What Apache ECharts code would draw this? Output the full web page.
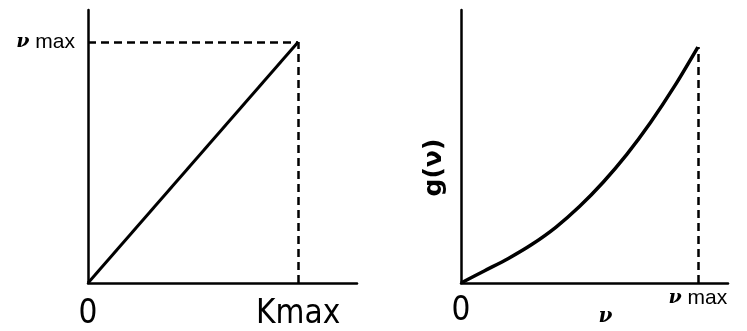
<!DOCTYPE html>
<html>
<head>
<meta charset="utf-8">
<script src="https://cdn.jsdelivr.net/npm/echarts@6/dist/echarts.min.js"></script>
<style>
  html, body { margin: 0; padding: 0; background: #fff; }
  #chart { width: 747px; height: 331px; }
</style>
</head>
<body>
<div id="chart"></div>
<script>
// left panel: nu = K * nu_max / K_max (normalised: K_max = 1, nu_max = 1)
const leftX = [0, 1]
const leftY = [0, 1]
const leftXTicks = [0, 1]
const leftXLabels = ['0', 'Kmax']
const leftYTicks = [1]
const leftYLabels = ['ν max']

// right panel: g(nu), nu normalised to nu_max = 1
const rightX = [0, 0.1, 0.2, 0.3, 0.4, 0.5, 0.6, 0.7, 0.8, 0.9, 1]
const rightY = [0, 0.052, 0.104, 0.164, 0.236, 0.324, 0.427, 0.545, 0.68, 0.832, 1]
const rightXTicks = [0, 1]
const rightXLabels = ['0', 'ν max']
const rightXName = 'ν'
const rightYName = 'g(ν)'

const ink = '#000'
const narrow = '"Liberation Sans Narrow", "DejaVu Sans Condensed", sans-serif'
const axisLine = { show: true, onZero: false, lineStyle: { color: ink, width: 2.5 } }
const dashed = { color: ink, width: 2.5, type: [8, 5] }

// "ν max" as rich text: serif italic nu + sans "max"
const nuRich = {
  nu: { fontFamily: 'DejaVu Serif', fontStyle: 'italic', fontWeight: 'bold', fontSize: 19, color: ink },
  mx: { fontFamily: '"Liberation Sans", sans-serif', fontSize: 21, color: ink },
}
const nuMax = (s) => s.replace('ν max', '{nu|ν}{mx| max}')

const chart = echarts.init(document.getElementById('chart'), null, { renderer: 'canvas' })

chart.setOption({
  backgroundColor: '#fff',
  animation: false,
  grid: [
    { left: 88, top: 10, width: 269, height: 273, outerBoundsMode: 'none' },
    { left: 461, top: 10, width: 267, height: 273, outerBoundsMode: 'none' },
  ],
  xAxis: [
    {
      gridIndex: 0, type: 'value', min: 0, max: 1.28,
      axisLine, axisTick: { show: false }, splitLine: { show: false },
      axisLabel: {
        customValues: leftXTicks,
        formatter: (v) => leftXLabels[leftXTicks.indexOf(v)],
        color: ink, fontFamily: narrow, fontSize: 33, margin: 15,
      },
    },
    {
      gridIndex: 1, type: 'value', min: 0, max: 1.127,
      axisLine, axisTick: { show: false }, splitLine: { show: false },
      name: rightXName, nameLocation: 'middle', nameGap: 24, nameMoveOverlap: false,
      nameTextStyle: { color: ink, fontFamily: 'DejaVu Serif', fontStyle: 'italic', fontWeight: 'bold', fontSize: 20, padding: [0, 0, 0, 22] },
      axisLabel: {
        customValues: rightXTicks,
        formatter: (v) => {
          const s = rightXLabels[rightXTicks.indexOf(v)]
          return v === 0 ? '{big|' + s + '}' : nuMax(s)
        },
        color: ink, margin: 5, verticalAlign: 'top',
        rich: {
          big: { fontFamily: narrow, fontSize: 33, color: ink, padding: [7, 0, 0, 0] },
          ...nuRich,
        },
      },
    },
  ],
  yAxis: [
    {
      gridIndex: 0, type: 'value', min: 0, max: 1.133,
      axisLine, axisTick: { show: false }, splitLine: { show: false },
      axisLabel: {
        customValues: leftYTicks,
        formatter: (v) => nuMax(leftYLabels[leftYTicks.indexOf(v)]),
        color: ink, margin: 13, rich: nuRich,
      },
    },
    {
      gridIndex: 1, type: 'value', min: 0, max: 1.157,
      axisLine, axisTick: { show: false }, splitLine: { show: false },
      axisLabel: { show: false },
      name: rightYName, nameLocation: 'middle', nameGap: 14, nameRotate: 90,
      nameTextStyle: { color: ink, fontFamily: 'DejaVu Sans', fontWeight: 'bold', fontSize: 25, padding: [0, 42, 0, 0] },
    },
  ],
  series: [
    {
      type: 'line', xAxisIndex: 0, yAxisIndex: 0,
      data: leftX.map((x, i) => [x, leftY[i]]),
      showSymbol: false, lineStyle: { color: ink, width: 3 },
      markLine: {
        silent: true, symbol: 'none', label: { show: false }, lineStyle: dashed,
        data: [
          [{ coord: [0, leftY[1]] }, { coord: [leftX[1], leftY[1]] }],
          [{ coord: [leftX[1], 0] }, { coord: [leftX[1], leftY[1]] }],
        ],
      },
    },
    {
      type: 'line', xAxisIndex: 1, yAxisIndex: 1,
      data: rightX.map((x, i) => [x, rightY[i]]),
      smooth: 0.3, showSymbol: false, lineStyle: { color: ink, width: 3.5 },
      markLine: {
        silent: true, symbol: 'none', label: { show: false }, lineStyle: dashed,
        data: [
          [{ coord: [1, 0] }, { coord: [1, rightY[rightY.length - 1]] }],
        ],
      },
    },
  ],
})
</script>
</body>
</html>
